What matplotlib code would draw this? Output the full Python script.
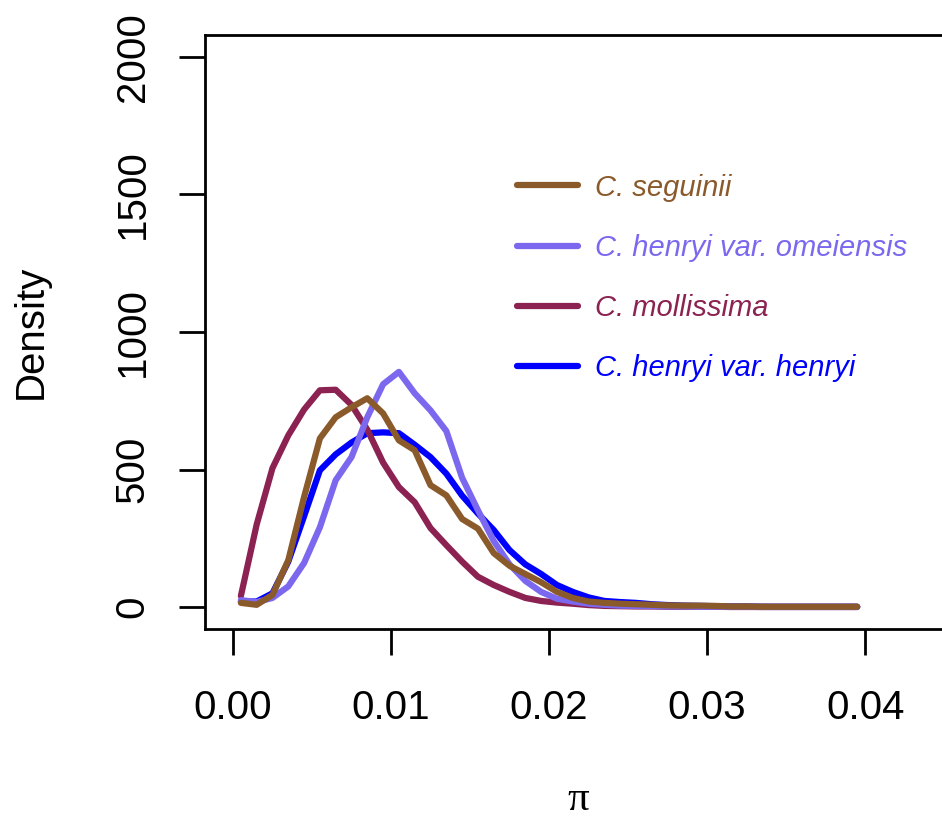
import matplotlib
matplotlib.use("Agg")
import matplotlib.pyplot as plt

plt.rcParams["font.family"] = ["Liberation Sans", "DejaVu Sans"]

# bin midpoints of pi
pi_vals = [0.0005 + 0.001 * i for i in range(40)]

seguinii = [15, 8, 44, 170, 400, 613, 690, 726, 759, 704,
            606, 570, 443, 406, 320, 285, 196, 150, 120, 90,
            55, 33, 20, 15, 12, 10, 8, 6, 5, 5,
            4, 2, 2, 1, 1, 1, 1, 1, 1, 1]
omeiensis = [25, 18, 33, 75, 160, 290, 461, 545, 690, 810,
             855, 777, 715, 640, 470, 352, 240, 155, 95, 55,
             30, 20, 12, 8, 5, 4, 3, 2, 2, 1,
             1, 1, 1, 0, 0, 0, 0, 0, 0, 0]
mollissima = [40, 300, 505, 624, 718, 788, 790, 735, 645, 525,
              436, 381, 287, 225, 165, 110, 80, 55, 33, 22,
              16, 12, 7, 4, 3, 2, 2, 1, 1, 1,
              1, 0, 0, 0, 0, 0, 0, 0, 0, 0]
henryi = [20, 20, 50, 165, 330, 497, 555, 598, 632, 635,
          632, 590, 545, 485, 405, 340, 280, 207, 155, 120,
          80, 55, 35, 22, 18, 15, 10, 7, 5, 4,
          3, 2, 2, 1, 1, 1, 1, 1, 1, 1]

labels = ["C. seguinii", "C. henryi var. omeiensis", "C. mollissima", "C. henryi var. henryi"]
colors = ["#8B5A2B", "#7B68EE", "#8B2252", "#0000FF"]

x_ticks = [0.00, 0.01, 0.02, 0.03, 0.04]
x_ticklabels = ["0.00", "0.01", "0.02", "0.03", "0.04"]
y_ticks = [0, 500, 1000, 1500, 2000]

fig = plt.figure(figsize=(9.42, 8.25), dpi=100)
ax = fig.add_axes([205 / 942, 196 / 825, 747 / 942, 594 / 825])

lw = 4.5
h_henryi, = ax.plot(pi_vals, henryi, color=colors[3], lw=lw, solid_capstyle="round")
h_moll, = ax.plot(pi_vals, mollissima, color=colors[2], lw=lw, solid_capstyle="round")
h_ome, = ax.plot(pi_vals, omeiensis, color=colors[1], lw=lw, solid_capstyle="round")
h_seg, = ax.plot(pi_vals, seguinii, color=colors[0], lw=lw, solid_capstyle="round")

ax.set_xlim(-0.00177, 0.0455)
ax.set_ylim(-80, 2080)

ax.set_xticks(x_ticks)
ax.set_xticklabels(x_ticklabels)
ax.set_yticks(y_ticks)
ax.set_yticklabels([str(v) for v in y_ticks], rotation=90, va="center")
ax.tick_params(axis="both", direction="out", length=18.5, width=2, labelsize=29)
ax.tick_params(axis="x", pad=25)
ax.tick_params(axis="y", pad=20)
for s in ax.spines.values():
    s.set_linewidth(2)

ax.set_ylabel("Density", fontsize=29, labelpad=46)
ax.set_xlabel("π", fontsize=31, family=["Liberation Serif", "DejaVu Serif"], labelpad=38)

leg = ax.legend([h_seg, h_ome, h_moll, h_henryi], labels, loc="upper left",
                bbox_to_anchor=(300 / 747, 1 - 127 / 594), bbox_transform=ax.transAxes,
                frameon=False, fontsize=21, handlelength=2.1, handletextpad=0.58,
                labelspacing=1.1, labelcolor="linecolor", borderaxespad=0)
for t in leg.get_texts():
    t.set_fontstyle("italic")

fig.savefig("out.png", dpi=100)
